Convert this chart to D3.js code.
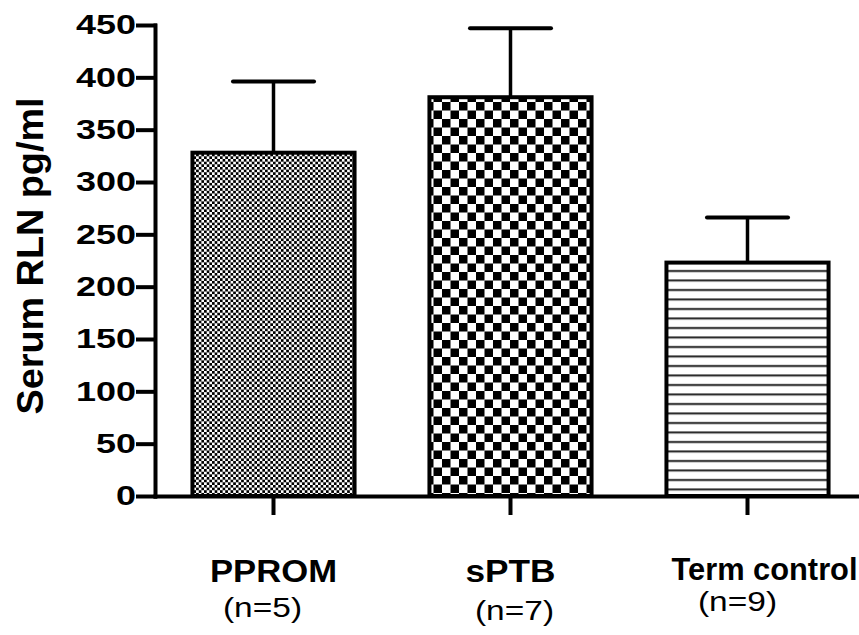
<!DOCTYPE html>
<html>
<head>
<meta charset="UTF-8">
<title>Serum RLN</title>
<script src="https://d3js.org/d3.v7.min.js"></script>
<style>
    body { margin: 0; background: #fff; }
    svg { display: block; font-family: "Liberation Sans", Arial, sans-serif; }
    .axis path, .axis line { stroke: #000; stroke-width: 4px; stroke-linecap: square; }
    .axis text { font-size: 28px; font-weight: bold; fill: #000; }
</style>
</head>
<body>
<svg id="chart" width="859" height="635"></svg>
<script>
    // values
    const groups = ["PPROM", "sPTB", "Term control"];
    const counts = ["(n=5)", "(n=7)", "(n=9)"];
    const means = [328, 381, 223];
    const errTop = [396, 447, 266];   // mean + error
    const yTicks = [0, 50, 100, 150, 200, 250, 300, 350, 400, 450];

    // small layout nudges for the labels (px)
    const labelDx = [0, 0, 17], labelY = [582, 582, 580], labelW = [127, 90, 186];
    const countDx = [-11, 4, -10], countY = [617, 620, 611];

    const svg = d3.select("#chart");
    const x0 = 155, yZero = 496;

    const x = d3.scaleBand()
        .domain(groups)
        .range([x0, x0 + 711])
        .paddingInner(0.316)
        .paddingOuter(0.158);

    const y = d3.scaleLinear()
        .domain([0, 450])
        .range([yZero, 25]);

    // fill patterns
    const defs = svg.append("defs");

    const fine = defs.append("pattern").attr("id", "p0")
        .attr("patternUnits", "userSpaceOnUse").attr("width", 5.3).attr("height", 5.3);
    fine.append("rect").attr("width", 5.3).attr("height", 5.3).attr("fill", "#fff");
    fine.append("rect").attr("width", 2.65).attr("height", 2.65).attr("fill", "#000");
    fine.append("rect").attr("x", 2.65).attr("y", 2.65).attr("width", 2.65).attr("height", 2.65).attr("fill", "#000");

    const coarse = defs.append("pattern").attr("id", "p1")
        .attr("patternUnits", "userSpaceOnUse").attr("width", 17).attr("height", 17);
    coarse.append("rect").attr("width", 17).attr("height", 17).attr("fill", "#fff");
    coarse.append("rect").attr("width", 8.5).attr("height", 8.5).attr("fill", "#000");
    coarse.append("rect").attr("x", 8.5).attr("y", 8.5).attr("width", 8.5).attr("height", 8.5).attr("fill", "#000");

    const stripes = defs.append("pattern").attr("id", "p2")
        .attr("patternUnits", "userSpaceOnUse").attr("width", 10).attr("height", 9.5);
    stripes.append("rect").attr("width", 10).attr("height", 9.5).attr("fill", "#fff");
    stripes.append("rect").attr("y", 4).attr("width", 10).attr("height", 2).attr("fill", "#222");

    // bars
    svg.selectAll(".bar")
        .data(groups)
        .enter()
        .append("rect")
        .attr("class", "bar")
        .attr("x", d => x(d))
        .attr("y", (d, i) => y(means[i]))
        .attr("width", x.bandwidth())
        .attr("height", (d, i) => yZero - y(means[i]))
        .attr("fill", (d, i) => `url(#p${i})`)
        .attr("stroke", "#000")
        .attr("stroke-width", 4);

    // error bars (upper only)
    const cap = x.bandwidth() / 2;
    groups.forEach((g, i) => {
        const cx = x(g) + x.bandwidth() / 2;
        svg.append("line")
            .attr("x1", cx).attr("x2", cx)
            .attr("y1", y(means[i])).attr("y2", y(errTop[i]))
            .attr("stroke", "#000").attr("stroke-width", 3.5);
        svg.append("line")
            .attr("x1", cx - cap / 2).attr("x2", cx + cap / 2)
            .attr("y1", y(errTop[i])).attr("y2", y(errTop[i]))
            .attr("stroke", "#000").attr("stroke-width", 4)
            .attr("stroke-linecap", "round");
    });

    // axes
    const tsx = 1.285;
    const yAxis = svg.append("g")
        .attr("class", "axis")
        .attr("transform", `translate(${x0},0)`)
        .call(d3.axisLeft(y).tickValues(yTicks).tickSize(17).tickSizeOuter(0).tickPadding(2));
    yAxis.selectAll("text")
        .attr("x", -19 / tsx)
        .attr("transform", `scale(${tsx},1)`);

    svg.append("g")
        .attr("class", "axis")
        .attr("transform", `translate(0,${yZero})`)
        .call(d3.axisBottom(x).tickSize(17).tickSizeOuter(0).tickFormat(""));

    // category labels
    groups.forEach((g, i) => {
        const cx = x(g) + x.bandwidth() / 2;
        svg.append("text")
            .attr("x", cx + labelDx[i] - labelW[i] / 2)
            .attr("y", labelY[i])
            .attr("textLength", labelW[i])
            .attr("lengthAdjust", "spacingAndGlyphs")
            .style("font-size", "31px")
            .style("font-weight", "bold")
            .text(g);
        svg.append("g")
            .attr("transform", `translate(${cx + countDx[i]},${countY[i]})`)
            .append("text")
            .attr("transform", "scale(1.24,1)")
            .attr("text-anchor", "middle")
            .style("font-size", "27px")
            .text(counts[i]);
    });

    // y axis title
    svg.append("g")
        .attr("transform", "translate(43,256) rotate(-90)")
        .append("text")
        .attr("transform", "scale(1.05,1)")
        .attr("text-anchor", "middle")
        .style("font-size", "36px")
        .style("font-weight", "bold")
        .text("Serum RLN pg/ml");
</script>
</body>
</html>
